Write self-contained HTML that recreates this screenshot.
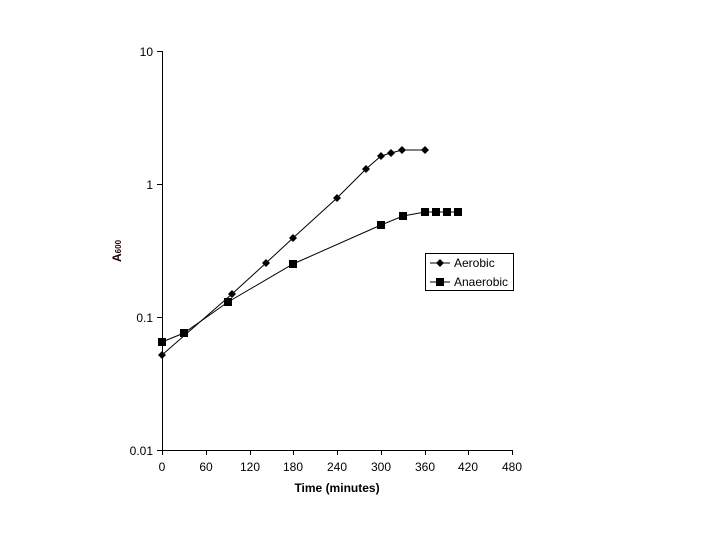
<!DOCTYPE html>
<html><head><style>body{margin:0;background:#fff}svg{display:block}</style></head><body>
<svg width="720" height="540" xmlns="http://www.w3.org/2000/svg" font-family="Liberation Sans, Arial, sans-serif">
<rect width="720" height="540" fill="#fff"/>
<g stroke="#000" stroke-width="1">
<line x1="162.5" y1="51" x2="162.5" y2="450"/>
<line x1="162" y1="450.5" x2="512" y2="450.5"/>
<line x1="157" y1="51.5" x2="162" y2="51.5"/>
<line x1="157" y1="184.5" x2="162" y2="184.5"/>
<line x1="157" y1="317.5" x2="162" y2="317.5"/>
<line x1="157" y1="450.5" x2="162" y2="450.5"/>
<line x1="162.5" y1="450" x2="162.5" y2="455"/>
<line x1="206.5" y1="450" x2="206.5" y2="455"/>
<line x1="250.5" y1="450" x2="250.5" y2="455"/>
<line x1="293.5" y1="450" x2="293.5" y2="455"/>
<line x1="337.5" y1="450" x2="337.5" y2="455"/>
<line x1="381.5" y1="450" x2="381.5" y2="455"/>
<line x1="425.5" y1="450" x2="425.5" y2="455"/>
<line x1="468.5" y1="450" x2="468.5" y2="455"/>
<line x1="512.5" y1="450" x2="512.5" y2="455"/>
</g>
<g font-size="12" text-anchor="end" fill="#000">
<text x="153" y="56">10</text><text x="153" y="189">1</text><text x="153" y="322">0.1</text><text x="153" y="455">0.01</text>
</g>
<g font-size="12" text-anchor="middle" fill="#000">
<text x="162" y="471">0</text><text x="206" y="471">60</text><text x="250" y="471">120</text><text x="293" y="471">180</text><text x="337" y="471">240</text><text x="381" y="471">300</text><text x="425" y="471">360</text><text x="468" y="471">420</text><text x="512" y="471">480</text>
</g>
<text x="337" y="492" font-size="12" font-weight="bold" text-anchor="middle">Time (minutes)</text>
<text transform="translate(121,262) rotate(-90)" font-size="12" font-weight="bold" fill="#200000">A<tspan font-size="8" dy="0">600</tspan></text>
<polyline fill="none" stroke="#000" points="162,355 232,294 266,263 293,238 337,198 366,169 381,156 391,153 402,150 425,150"/>
<polyline fill="none" stroke="#000" points="162,342 184,333 228,302 293,264 381,225 403,216 425,212 436,212 447,212 458,212"/>
<g fill="#000">
<path d="M162 351l4 4-4 4-4-4z"/><path d="M232 290l4 4-4 4-4-4z"/><path d="M266 259l4 4-4 4-4-4z"/><path d="M293 234l4 4-4 4-4-4z"/><path d="M337 194l4 4-4 4-4-4z"/><path d="M366 165l4 4-4 4-4-4z"/><path d="M381 152l4 4-4 4-4-4z"/><path d="M391 149l4 4-4 4-4-4z"/><path d="M402 146l4 4-4 4-4-4z"/><path d="M425 146l4 4-4 4-4-4z"/>
<rect x="158" y="338" width="8" height="8"/><rect x="180" y="329" width="8" height="8"/><rect x="224" y="298" width="8" height="8"/><rect x="289" y="260" width="8" height="8"/><rect x="377" y="221" width="8" height="8"/><rect x="399" y="212" width="8" height="8"/><rect x="421" y="208" width="8" height="8"/><rect x="432" y="208" width="8" height="8"/><rect x="443" y="208" width="8" height="8"/><rect x="454" y="208" width="8" height="8"/>
</g>
<rect x="425.5" y="253.5" width="88" height="37" fill="#fff" stroke="#000"/>
<line x1="430" y1="263" x2="450" y2="263" stroke="#000"/>
<path d="M440 259l4 4-4 4-4-4z" fill="#000"/>
<line x1="430" y1="282" x2="450" y2="282" stroke="#000"/>
<rect x="436" y="278" width="8" height="8" fill="#000"/>
<text x="454" y="267" font-size="12">Aerobic</text>
<text x="454" y="286" font-size="12">Anaerobic</text>
</svg>
</body></html>
